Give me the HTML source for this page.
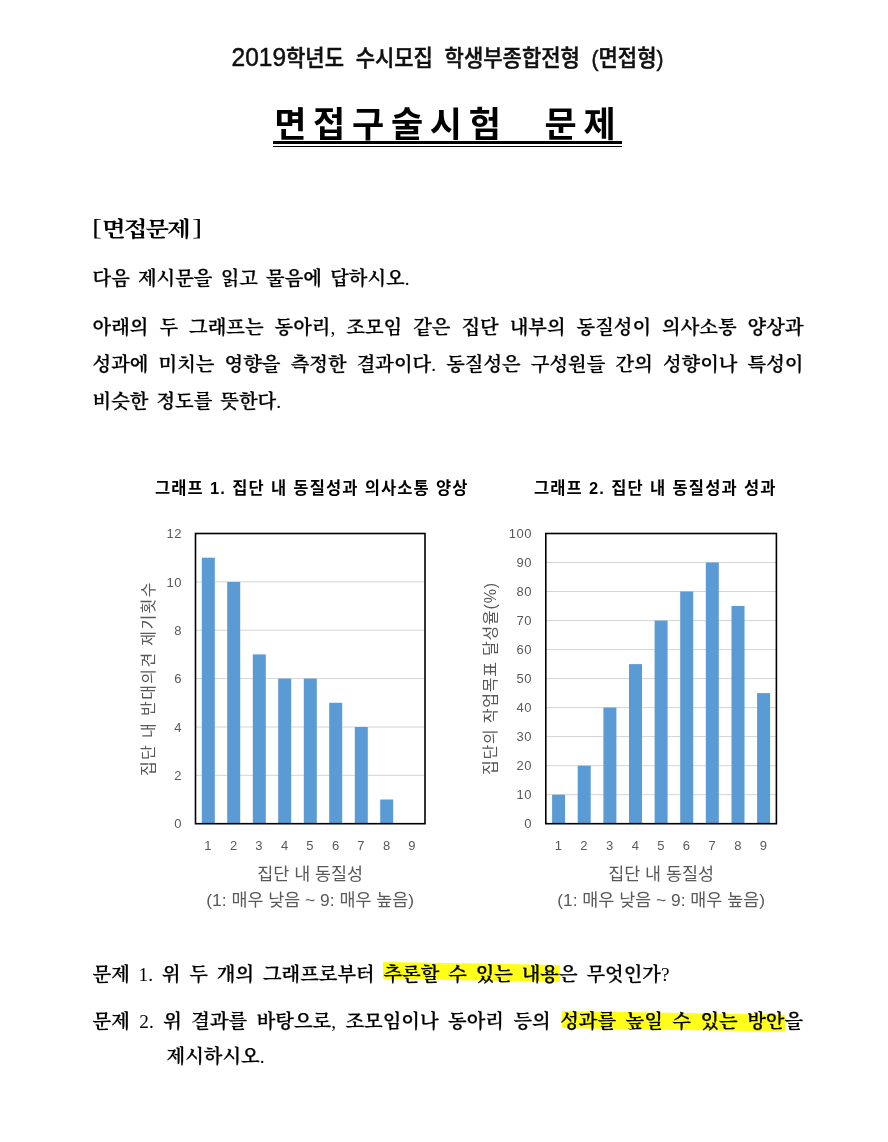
<!DOCTYPE html>
<html lang="ko">
<head>
<meta charset="utf-8">
<title>면접구술시험 문제</title>
<style>
html,body{margin:0;padding:0;background:#fff;}
body{width:888px;height:1142px;position:relative;overflow:hidden;color:#000;
  font-family:"Liberation Sans","Noto Sans CJK KR",sans-serif;}
.abs{position:absolute;white-space:nowrap;}
.sans{font-family:"Liberation Sans","Noto Sans CJK KR",sans-serif;}
.serif{font-family:"Liberation Serif","Noto Serif CJK SC",serif;}
.j{white-space:nowrap;text-align:justify;text-align-last:justify;}
#h1{left:231.5px;width:432px;top:41.5px;-webkit-text-stroke:0.45px #111;font-size:21px;line-height:34px;color:#111;font-weight:500;transform:scaleY(1.07);transform-origin:0 50%;}
#h1 .d{font-size:24.5px;line-height:0;}
.tt{top:100px;font-size:35px;line-height:50px;font-weight:700;transform:scaleX(1.0);transform-origin:0 0;letter-spacing:6.7px;}
#ul1{left:273px;top:141.4px;width:349px;height:2.6px;background:#000;}
#ul2{left:273px;top:146.2px;width:349px;height:1.2px;background:#000;}
#sec{left:102px;top:211.5px;font-size:21px;line-height:34px;font-weight:700;transform:scaleX(1.17);transform-origin:0 0;letter-spacing:-1.75px;}
.br{top:209.5px;font-size:23.5px;line-height:34px;font-weight:400;transform:scaleX(1.3);transform-origin:0 0;}
.body{font-size:19.3px;line-height:30px;font-weight:600;-webkit-text-stroke:0.25px #000;}
.body .p{font-weight:400;-webkit-text-stroke:0;}
.ct{font-size:16.5px;line-height:24px;font-weight:700;letter-spacing:1.1px;}
.hl{position:absolute;background:#ffff1a;height:16.5px;transform-origin:0 0;transform:skewY(0.95deg);}
svg{position:absolute;left:0;top:0;}
svg text{font-family:"Liberation Sans","Noto Sans CJK KR",sans-serif;fill:#595959;}
.tk{font-size:13px;letter-spacing:0.5px;}
.ax{font-size:17.4px;}
</style>
</head>
<body>
<div id="h1" class="abs sans j"><span class="d">2019</span>학년도 수시모집 학생부종합전형 (면접형)</div>
<div class="abs sans tt" style="left:274.2px;">면접구술시험</div>
<div class="abs sans tt" style="left:544.6px;">문제</div>
<div id="ul1" class="abs"></div><div id="ul2" class="abs"></div>
<div class="abs serif br" style="left:91.5px;">[</div>
<div id="sec" class="abs serif">면접문제</div>
<div class="abs serif br" style="left:191.8px;">]</div>
<div class="abs serif body j" style="left:92.5px;width:317.0px;top:264.3px;">다음 제시문을 읽고 물음에 답하시오<span class="p">.</span></div>
<div class="abs serif body j" style="left:92.5px;width:711.0px;top:312.5px;">아래의 두 그래프는 동아리<span class="p">,</span> 조모임 같은 집단 내부의 동질성이 의사소통 양상과</div>
<div class="abs serif body j" style="left:92.5px;width:711.0px;top:349.5px;">성과에 미치는 영향을 측정한 결과이다<span class="p">.</span> 동질성은 구성원들 간의 성향이나 특성이</div>
<div class="abs serif body j" style="left:92.5px;width:188.5px;top:386.5px;">비슷한 정도를 뜻한다<span class="p">.</span></div>

<div class="abs sans ct j" style="left:155px;width:313.5px;top:476.3px;">그래프 1. 집단 내 동질성과 의사소통 양상</div>
<div class="abs sans ct j" style="left:534px;width:242.5px;top:476.3px;">그래프 2. 집단 내 동질성과 성과</div>

<svg width="888" height="1142" viewBox="0 0 888 1142">
<line x1="195.5" x2="425" y1="775.3" y2="775.3" stroke="#d4d4d4" stroke-width="1"/>
<line x1="195.5" x2="425" y1="727.0" y2="727.0" stroke="#d4d4d4" stroke-width="1"/>
<line x1="195.5" x2="425" y1="678.6" y2="678.6" stroke="#d4d4d4" stroke-width="1"/>
<line x1="195.5" x2="425" y1="630.2" y2="630.2" stroke="#d4d4d4" stroke-width="1"/>
<line x1="195.5" x2="425" y1="581.9" y2="581.9" stroke="#d4d4d4" stroke-width="1"/>
<rect x="201.8" y="557.7" width="13.0" height="266.0" fill="#5b9bd5"/>
<rect x="227.2" y="581.9" width="13.0" height="241.8" fill="#5b9bd5"/>
<rect x="252.8" y="654.4" width="13.0" height="169.3" fill="#5b9bd5"/>
<rect x="278.2" y="678.6" width="13.0" height="145.1" fill="#5b9bd5"/>
<rect x="303.8" y="678.6" width="13.0" height="145.1" fill="#5b9bd5"/>
<rect x="329.2" y="702.8" width="13.0" height="120.9" fill="#5b9bd5"/>
<rect x="354.8" y="727.0" width="13.0" height="96.7" fill="#5b9bd5"/>
<rect x="380.2" y="799.5" width="13.0" height="24.2" fill="#5b9bd5"/>
<rect x="195.5" y="533.5" width="229.5" height="290.20000000000005" fill="none" stroke="#000" stroke-width="1.6"/>
<text x="182" y="828.3" text-anchor="end" class="tk">0</text>
<text x="182" y="779.9" text-anchor="end" class="tk">2</text>
<text x="182" y="731.6" text-anchor="end" class="tk">4</text>
<text x="182" y="683.2" text-anchor="end" class="tk">6</text>
<text x="182" y="634.8" text-anchor="end" class="tk">8</text>
<text x="182" y="586.5" text-anchor="end" class="tk">10</text>
<text x="182" y="538.1" text-anchor="end" class="tk">12</text>
<text x="208.2" y="849.5" text-anchor="middle" class="tk">1</text>
<text x="233.8" y="849.5" text-anchor="middle" class="tk">2</text>
<text x="259.2" y="849.5" text-anchor="middle" class="tk">3</text>
<text x="284.8" y="849.5" text-anchor="middle" class="tk">4</text>
<text x="310.2" y="849.5" text-anchor="middle" class="tk">5</text>
<text x="335.8" y="849.5" text-anchor="middle" class="tk">6</text>
<text x="361.2" y="849.5" text-anchor="middle" class="tk">7</text>
<text x="386.8" y="849.5" text-anchor="middle" class="tk">8</text>
<text x="412.2" y="849.5" text-anchor="middle" class="tk">9</text>
<text x="310.2" y="880" text-anchor="middle" class="ax">집단 내 동질성</text>
<text x="310.2" y="906" text-anchor="middle" class="ax">(1: 매우 낮음 ~ 9: 매우 높음)</text>
<text transform="translate(149,678.6) rotate(-90)" x="0" y="5" text-anchor="middle" class="ay" font-size="16" letter-spacing="1.4">집단 내 반대의견 제기횟수</text>
<line x1="545.8" x2="776.4" y1="794.7" y2="794.7" stroke="#d4d4d4" stroke-width="1"/>
<line x1="545.8" x2="776.4" y1="765.7" y2="765.7" stroke="#d4d4d4" stroke-width="1"/>
<line x1="545.8" x2="776.4" y1="736.6" y2="736.6" stroke="#d4d4d4" stroke-width="1"/>
<line x1="545.8" x2="776.4" y1="707.6" y2="707.6" stroke="#d4d4d4" stroke-width="1"/>
<line x1="545.8" x2="776.4" y1="678.6" y2="678.6" stroke="#d4d4d4" stroke-width="1"/>
<line x1="545.8" x2="776.4" y1="649.6" y2="649.6" stroke="#d4d4d4" stroke-width="1"/>
<line x1="545.8" x2="776.4" y1="620.6" y2="620.6" stroke="#d4d4d4" stroke-width="1"/>
<line x1="545.8" x2="776.4" y1="591.5" y2="591.5" stroke="#d4d4d4" stroke-width="1"/>
<line x1="545.8" x2="776.4" y1="562.5" y2="562.5" stroke="#d4d4d4" stroke-width="1"/>
<rect x="552.1" y="794.7" width="13.0" height="29.0" fill="#5b9bd5"/>
<rect x="577.7" y="765.7" width="13.0" height="58.0" fill="#5b9bd5"/>
<rect x="603.4" y="707.6" width="13.0" height="116.1" fill="#5b9bd5"/>
<rect x="629.0" y="664.1" width="13.0" height="159.6" fill="#5b9bd5"/>
<rect x="654.6" y="620.6" width="13.0" height="203.1" fill="#5b9bd5"/>
<rect x="680.2" y="591.5" width="13.0" height="232.2" fill="#5b9bd5"/>
<rect x="705.8" y="562.5" width="13.0" height="261.2" fill="#5b9bd5"/>
<rect x="731.5" y="606.0" width="13.0" height="217.7" fill="#5b9bd5"/>
<rect x="757.1" y="693.1" width="13.0" height="130.6" fill="#5b9bd5"/>
<rect x="545.8" y="533.5" width="230.60000000000002" height="290.20000000000005" fill="none" stroke="#000" stroke-width="1.6"/>
<text x="532" y="828.3" text-anchor="end" class="tk">0</text>
<text x="532" y="799.3" text-anchor="end" class="tk">10</text>
<text x="532" y="770.3" text-anchor="end" class="tk">20</text>
<text x="532" y="741.2" text-anchor="end" class="tk">30</text>
<text x="532" y="712.2" text-anchor="end" class="tk">40</text>
<text x="532" y="683.2" text-anchor="end" class="tk">50</text>
<text x="532" y="654.2" text-anchor="end" class="tk">60</text>
<text x="532" y="625.2" text-anchor="end" class="tk">70</text>
<text x="532" y="596.1" text-anchor="end" class="tk">80</text>
<text x="532" y="567.1" text-anchor="end" class="tk">90</text>
<text x="532" y="538.1" text-anchor="end" class="tk">100</text>
<text x="558.6" y="849.5" text-anchor="middle" class="tk">1</text>
<text x="584.2" y="849.5" text-anchor="middle" class="tk">2</text>
<text x="609.9" y="849.5" text-anchor="middle" class="tk">3</text>
<text x="635.5" y="849.5" text-anchor="middle" class="tk">4</text>
<text x="661.1" y="849.5" text-anchor="middle" class="tk">5</text>
<text x="686.7" y="849.5" text-anchor="middle" class="tk">6</text>
<text x="712.3" y="849.5" text-anchor="middle" class="tk">7</text>
<text x="738.0" y="849.5" text-anchor="middle" class="tk">8</text>
<text x="763.6" y="849.5" text-anchor="middle" class="tk">9</text>
<text x="661.1" y="880" text-anchor="middle" class="ax">집단 내 동질성</text>
<text x="661.1" y="906" text-anchor="middle" class="ax">(1: 매우 낮음 ~ 9: 매우 높음)</text>
<text transform="translate(491,678.6) rotate(-90)" x="0" y="5" text-anchor="middle" class="ay" font-size="16" letter-spacing="0.8">집단의 작업목표 달성율(%)</text>
</svg>

<div class="hl" style="left:382.5px;top:961.8px;width:177px;"></div>
<div class="hl" style="left:561.5px;top:1011px;width:223px;"></div>
<div class="abs serif body j" style="left:92.5px;width:577.0px;top:959.5px;">문제 <span class="p">1.</span> 위 두 개의 그래프로부터 추론할 수 있는 내용은 무엇인가<span class="p">?</span></div>
<div class="abs serif body j" style="left:92.5px;width:710.5px;top:1006.5px;">문제 <span class="p">2.</span> 위 결과를 바탕으로<span class="p">,</span> 조모임이나 동아리 등의 성과를 높일 수 있는 방안을</div>
<div class="abs serif body j" style="left:166.5px;width:98.0px;top:1041.5px;">제시하시오<span class="p">.</span></div>
</body>
</html>
